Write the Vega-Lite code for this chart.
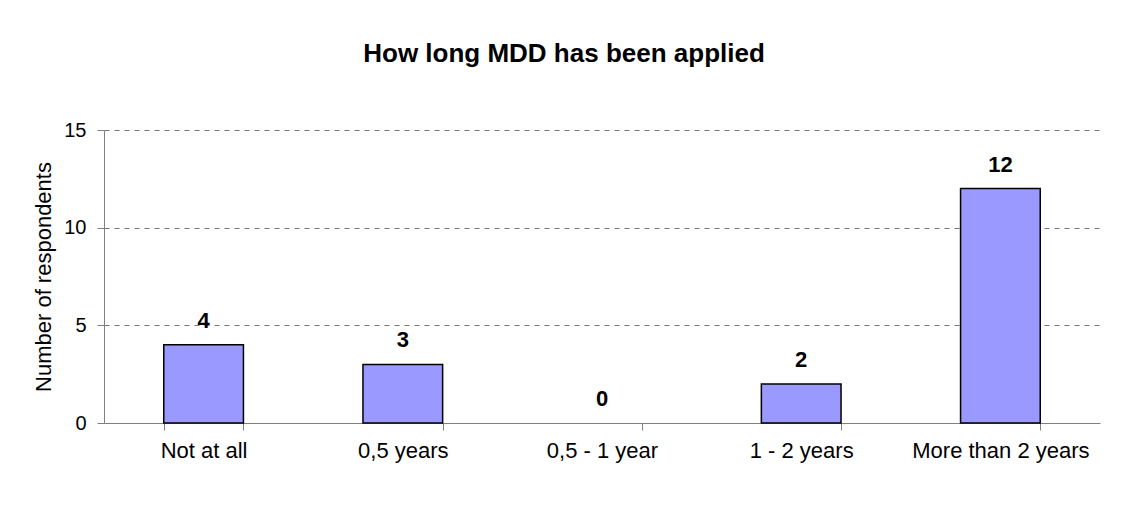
{
  "$schema": "https://vega.github.io/schema/vega-lite/v6.json",
  "width": 996,
  "height": 293,
  "autosize": {"type": "none"},
  "padding": {"left": 104, "top": 130, "right": 31, "bottom": 95},
  "background": "white",
  "title": {
    "text": "How long MDD has been applied",
    "font": "Liberation Sans",
    "fontSize": 26,
    "fontWeight": "bold",
    "color": "black",
    "anchor": "middle",
    "dx": -38,
    "offset": 53
  },
  "config": {
    "view": {"stroke": null},
    "font": "Liberation Sans"
  },
  "data": {
    "values": [
      {"category": "Not at all", "respondents": 4},
      {"category": "0,5 years", "respondents": 3},
      {"category": "0,5 - 1 year", "respondents": 0},
      {"category": "1 - 2 years", "respondents": 2},
      {"category": "More than 2 years", "respondents": 12}
    ]
  },
  "encoding": {
    "x": {
      "field": "category",
      "type": "nominal",
      "sort": ["Not at all", "0,5 years", "0,5 - 1 year", "1 - 2 years", "More than 2 years"],
      "scale": {"paddingInner": 0.6, "paddingOuter": 0.3},
      "axis": {
        "title": null,
        "labelAngle": 0,
        "tickBand": "extent",
        "domainColor": "#808080",
        "tickColor": "#808080",
        "tickSize": 7,
        "labelFont": "Liberation Sans",
        "labelFontSize": 22,
        "labelColor": "black",
        "labelPadding": 10
      }
    },
    "y": {
      "field": "respondents",
      "type": "quantitative",
      "scale": {"domain": [0, 15], "nice": false},
      "axis": {
        "values": [0, 5, 10, 15],
        "grid": true,
        "gridDash": [5, 5],
        "gridColor": "#777777",
        "domainColor": "#808080",
        "tickColor": "#808080",
        "tickSize": 7,
        "labelFont": "Liberation Sans",
        "labelFontSize": 20,
        "labelColor": "black",
        "labelPadding": 11,
        "title": "Number of respondents",
        "titleFont": "Liberation Sans",
        "titleFontSize": 22,
        "titleFontWeight": "normal",
        "titleColor": "black",
        "titlePadding": 8
      }
    }
  },
  "layer": [
    {
      "transform": [{"filter": "datum.respondents > 0"}],
      "mark": {"type": "bar", "fill": "#9999FF", "stroke": "black", "strokeWidth": 1.5}
    },
    {
      "mark": {"type": "text", "baseline": "bottom", "dy": -12, "fontWeight": "bold", "fontSize": 22, "font": "Liberation Sans", "color": "black"},
      "encoding": {"text": {"field": "respondents", "type": "quantitative"}}
    }
  ]
}
